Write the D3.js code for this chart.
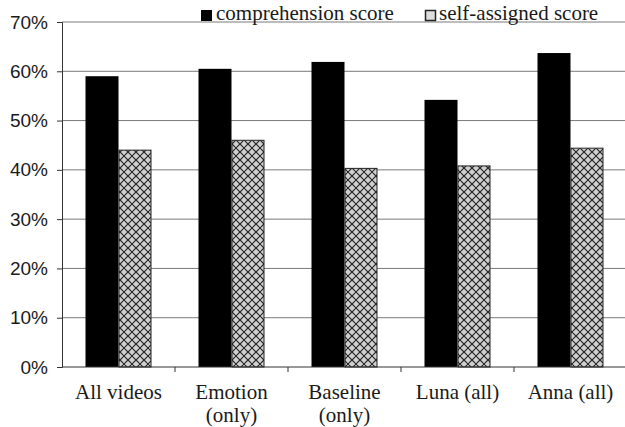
<!DOCTYPE html>
<html><head><meta charset="utf-8">
<script src="https://cdn.jsdelivr.net/npm/d3@7"></script>
<style>body{margin:0;background:#fff}svg{display:block}
.serif{font-family:'Liberation Serif','Times New Roman',serif}
.sans{font-family:'Liberation Sans',Arial,sans-serif}</style>
</head><body>
<svg id="chart" width="625" height="427"></svg>
<script>
const categories = [["All videos"], ["Emotion", "(only)"], ["Baseline", "(only)"], ["Luna (all)"], ["Anna (all)"]];
const seriesNames = ["comprehension score", "self-assigned score"];
const comprehension = [59.0, 60.5, 61.9, 54.2, 63.7];
const selfAssigned = [44.0, 46.0, 40.3, 40.8, 44.4];
const yTicks = [0, 10, 20, 30, 40, 50, 60, 70];

const svg = d3.select("#chart");
const defs = svg.append("defs");
const pat = defs.append("pattern").attr("id","hatch").attr("patternUnits","userSpaceOnUse")
  .attr("width",8).attr("height",8);
pat.append("rect").attr("width",8).attr("height",8).attr("fill","#cfcfcf");
pat.append("circle").attr("cx",4).attr("cy",4).attr("r",2.2).attr("fill","#e8e8e8");
pat.append("path").attr("d","M0,0L8,8M8,0L0,8").attr("stroke","#222").attr("stroke-width",1.2);

const m = {l:62, r:625, t:22, b:367};
const x = d3.scaleBand().domain(d3.range(categories.length)).range([m.l, 627]).paddingInner(0).paddingOuter(0);
const y = d3.scaleLinear().domain([0,70]).range([m.b, m.t]);
const bw = 33;

// gridlines
svg.append("g").selectAll("line").data(yTicks.slice(1)).join("line")
  .attr("x1", m.l).attr("x2", 625).attr("y1", d=>y(d)).attr("y2", d=>y(d))
  .attr("stroke","#7a7a7a").attr("stroke-width",1);

// y axis
const yAxis = d3.axisLeft(y).tickValues(yTicks).tickFormat(d=>d+"%").tickSize(5).tickPadding(9);
const ya = svg.append("g").attr("transform",`translate(${m.l},0)`).call(yAxis);
ya.attr("font-family",null);
ya.select(".domain").attr("stroke","#333");
ya.selectAll(".tick line").attr("stroke","#333");
ya.selectAll("text").attr("class","sans").attr("font-size",19).attr("fill","#1a1a1a");

// bars
const g = svg.append("g");
categories.forEach((c,i)=>{
  const cx = x(i) + x.bandwidth()/2;
  g.append("rect").attr("x", cx-bw).attr("width", bw).attr("y", y(comprehension[i]))
    .attr("height", y(0)-y(comprehension[i])).attr("fill","#000");
  g.append("rect").attr("x", cx+0.5).attr("width", bw-1).attr("y", y(selfAssigned[i]))
    .attr("height", y(0)-y(selfAssigned[i])).attr("fill","url(#hatch)").attr("stroke","#222").attr("stroke-width",1);
});

// x axis
svg.append("line").attr("x1",m.l).attr("x2",625).attr("y1",y(0)).attr("y2",y(0)).attr("stroke","#333");
svg.append("g").selectAll("line").data(d3.range(1,categories.length)).join("line")
  .attr("x1",d=>x(d)).attr("x2",d=>x(d)).attr("y1",y(0)).attr("y2",y(0)+5).attr("stroke","#333");

// category labels
categories.forEach((c,i)=>{
  const cx = x(i) + x.bandwidth()/2;
  const t = svg.append("text").attr("class","serif").attr("text-anchor","middle")
    .attr("font-size",21).attr("fill","#1a1a1a");
  c.forEach((line,j)=>t.append("tspan").attr("x",cx).attr("y",399+j*23).text(line));
});

// legend
const leg = svg.append("g").attr("class","serif").attr("font-size",21).attr("fill","#1a1a1a");
leg.append("rect").attr("x",201).attr("y",10).attr("width",11).attr("height",11).attr("fill","#000");
leg.append("text").attr("x",216).attr("y",20).text(seriesNames[0]);
leg.append("rect").attr("x",425.5).attr("y",10.5).attr("width",10).attr("height",10).attr("fill","#ddd").attr("stroke","#222").attr("stroke-width",1.5);
leg.append("text").attr("x",439).attr("y",20).text(seriesNames[1]);
</script>
</body></html>
